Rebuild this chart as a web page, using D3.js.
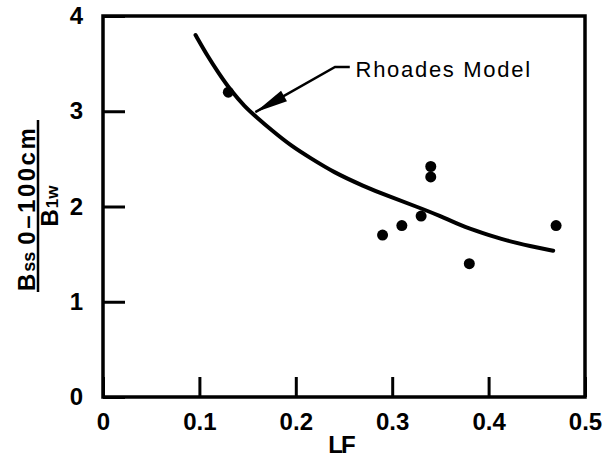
<!DOCTYPE html>
<html>
<head>
<meta charset="utf-8">
<script src="https://cdn.jsdelivr.net/npm/d3@7"></script>
<style>
  html, body { margin: 0; padding: 0; background: #fff; }
  svg { display: block; font-family: "Liberation Sans", Arial, sans-serif; }
</style>
</head>
<body>
<div id="chart"></div>
<script>
// measured points
const lfValues = [0.13, 0.29, 0.31, 0.33, 0.34, 0.34, 0.38, 0.47];
const ratioValues = [3.2, 1.7, 1.8, 1.9, 2.42, 2.31, 1.4, 1.8];

// Rhoades model curve
const modelLF = [0.096, 0.109, 0.120, 0.1335, 0.147, 0.159, 0.175, 0.196, 0.215, 0.239, 0.270, 0.298, 0.325, 0.350, 0.370, 0.394, 0.419, 0.443, 0.467];
const modelRatio = [3.80, 3.57, 3.40, 3.205, 3.05, 2.94, 2.80, 2.63, 2.51, 2.36, 2.215, 2.10, 2.00, 1.90, 1.806, 1.72, 1.64, 1.585, 1.536];

const xTicks = [0, 0.1, 0.2, 0.3, 0.4, 0.5];
const yTicks = [0, 1, 2, 3, 4];
const xTickLabels = ['0', '0.1', '0.2', '0.3', '0.4', '0.5'];
const yTickLabels = ['0', '1', '2', '3', '4'];

// annotation anchor (data units)
const arrowTip = [0.158, 2.99];
const arrowElbow = [0.2407, 3.465];
const arrowEnd = [0.256, 3.465];
const noteText = 'Rhoades Model';

const width = 602, height = 459;
const margin = { top: 16, right: 17, bottom: 62, left: 103 };

const svg = d3.select('#chart')
  .append('svg')
  .attr('width', width)
  .attr('height', height);

const x = d3.scaleLinear().domain([0, 0.5]).range([margin.left, width - margin.right]);
const y = d3.scaleLinear().domain([0, 4]).range([height - margin.bottom, margin.top]);

// frame
svg.append('rect')
  .attr('x', x(0))
  .attr('y', y(4))
  .attr('width', x(0.5) - x(0))
  .attr('height', y(0) - y(4))
  .attr('fill', 'none')
  .attr('stroke', '#000')
  .attr('stroke-width', 3.5);

// X axis
const xAxis = svg.append('g')
  .attr('transform', `translate(0,${y(0)})`)
  .call(d3.axisBottom(x).tickValues(xTicks)
    .tickFormat((d, i) => xTickLabels[i])
    .tickSizeInner(-20).tickSizeOuter(0).tickPadding(16));
xAxis.select('.domain').remove();

// Y axis
const yAxis = svg.append('g')
  .attr('transform', `translate(${x(0)},0)`)
  .call(d3.axisLeft(y).tickValues(yTicks)
    .tickFormat((d, i) => yTickLabels[i])
    .tickSizeInner(-22).tickSizeOuter(0).tickPadding(20));
yAxis.select('.domain').remove();

svg.selectAll('.tick line').attr('stroke', '#000').attr('stroke-width', 3);
svg.selectAll('.tick text')
  .attr('fill', '#000')
  .style('font-size', '24px')
  .style('font-weight', 'bold');

// X label
svg.append('text')
  .attr('x', x(0.25) - 3)
  .attr('y', 453)
  .attr('text-anchor', 'middle')
  .style('font-size', '24px')
  .style('font-weight', 'bold')
  .style('letter-spacing', '-2px')
  .text('LF');

// Y label: fraction, rotated
const yl = svg.append('g').attr('transform', 'translate(38,206) rotate(-90)');
yl.append('line')
  .attr('x1', -86).attr('x2', 86)
  .attr('stroke', '#000').attr('stroke-width', 2.5);
const num = yl.append('text')
  .attr('x', -85)
  .attr('y', -3)
  .style('font-size', '24px')
  .style('font-weight', 'bold');
num.append('tspan').text('B');
num.append('tspan').style('font-size', '18px').attr('dx', 2).text('ss');
num.append('tspan').attr('dx', 7).style('letter-spacing', '2.5px').text('0\u2013100cm');
const den = yl.append('text')
  .attr('x', 0)
  .attr('y', 20)
  .attr('text-anchor', 'middle')
  .style('font-size', '24px')
  .style('font-weight', 'bold');
den.append('tspan').text('B');
den.append('tspan').style('font-size', '17px').attr('dx', 1).text('1w');

// model curve
const line = d3.line()
  .x((d, i) => x(modelLF[i]))
  .y(d => y(d))
  .curve(d3.curveBasis);

svg.append('path')
  .datum(modelRatio)
  .attr('d', line)
  .attr('fill', 'none')
  .attr('stroke', '#000')
  .attr('stroke-width', 4)
  .attr('stroke-linecap', 'round');

// data points
svg.selectAll('circle.pt')
  .data(lfValues)
  .enter()
  .append('circle')
  .attr('class', 'pt')
  .attr('cx', d => x(d))
  .attr('cy', (d, i) => y(ratioValues[i]))
  .attr('r', 5.5)
  .attr('fill', '#000');

// annotation arrow
const tip = [x(arrowTip[0]), y(arrowTip[1])];
const elbow = [x(arrowElbow[0]), y(arrowElbow[1])];
const end = [x(arrowEnd[0]), y(arrowEnd[1])];
svg.append('path')
  .attr('d', d3.line()([end, elbow, tip]))
  .attr('fill', 'none')
  .attr('stroke', '#000')
  .attr('stroke-width', 2.5);

const dx = elbow[0] - tip[0], dy = elbow[1] - tip[1];
const len = Math.hypot(dx, dy);
const ux = dx / len, uy = dy / len;
const headLen = 33, headHalf = 6;
const bx = tip[0] + ux * headLen, by = tip[1] + uy * headLen;
svg.append('path')
  .attr('d', d3.line()([tip, [bx - uy * headHalf, by + ux * headHalf], [bx + uy * headHalf, by - ux * headHalf]]) + 'Z')
  .attr('fill', '#000');

svg.append('text')
  .attr('x', x(0.262))
  .attr('y', y(3.36))
  .style('font-size', '22px')
  .style('letter-spacing', '1.7px')
  .text(noteText);
</script>
</body>
</html>
